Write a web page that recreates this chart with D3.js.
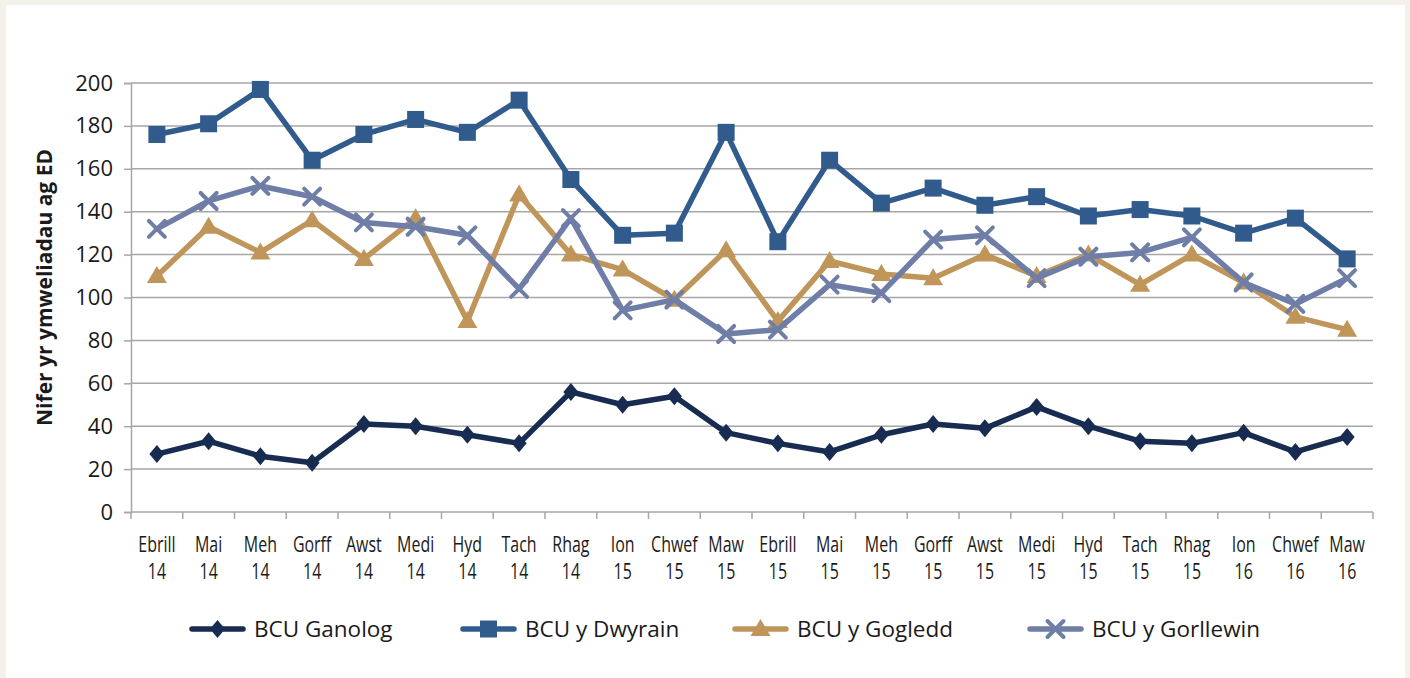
<!DOCTYPE html>
<html>
<head>
<meta charset="utf-8">
<script src="https://cdn.jsdelivr.net/npm/d3@7"></script>
<style>
  html, body { margin: 0; padding: 0; background: #f4f0ea; }
  svg { display: block; }
  text { font-family: "Open Sans", "Noto Sans", sans-serif; fill: #1a1a1a; }
</style>
</head>
<body>
<div id="chart"></div>
<script>
// data
const months = ["Ebrill", "Mai", "Meh", "Gorff", "Awst", "Medi", "Hyd", "Tach", "Rhag", "Ion", "Chwef", "Maw",
                "Ebrill", "Mai", "Meh", "Gorff", "Awst", "Medi", "Hyd", "Tach", "Rhag", "Ion", "Chwef", "Maw"];
const years = ["14", "14", "14", "14", "14", "14", "14", "14", "14", "15", "15", "15",
               "15", "15", "15", "15", "15", "15", "15", "15", "15", "16", "16", "16"];

const ganolog   = [27, 33, 26, 23, 41, 40, 36, 32, 56, 50, 54, 37, 32, 28, 36, 41, 39, 49, 40, 33, 32, 37, 28, 35];
const dwyrain   = [176, 181, 197, 164, 176, 183, 177, 192, 155, 129, 130, 177, 126, 164, 144, 151, 143, 147, 138, 141, 138, 130, 137, 118];
const gogledd   = [110, 133, 121, 136, 118, 137, 89, 148, 120, 113, 99, 122, 89, 117, 111, 109, 120, 110, 120, 106, 120, 107, 91, 85];
const gorllewin = [132, 145, 152, 147, 135, 133, 129, 104, 137, 94, 99, 83, 85, 106, 102, 127, 129, 109, 119, 121, 128, 107, 97, 109];

const yTicks = [0, 20, 40, 60, 80, 100, 120, 140, 160, 180, 200];
const yTitle = "Nifer yr ymweliadau ag ED";

const series = [
  {name: "BCU Ganolog",     values: ganolog,   color: "#172c50", marker: "diamond"},
  {name: "BCU y Dwyrain",   values: dwyrain,   color: "#315b8c", marker: "square"},
  {name: "BCU y Gogledd",   values: gogledd,   color: "#bf955a", marker: "triangle"},
  {name: "BCU y Gorllewin", values: gorllewin, color: "#6f7ea7", marker: "cross"}
];

// layout
const width = 1410, height = 678;
const margin = {left: 131, right: 37, top: 83, bottom: 166};

const svg = d3.select("#chart").append("svg")
  .attr("width", width)
  .attr("height", height);

// white panel
svg.append("rect")
  .attr("x", 6).attr("y", 5)
  .attr("width", 1399).attr("height", height - 5)
  .attr("fill", "#fff");

const x = d3.scaleBand()
  .domain(d3.range(months.length))
  .range([margin.left, width - margin.right]);

const y = d3.scaleLinear()
  .domain([0, 200])
  .range([height - margin.bottom, margin.top]);

const x0 = margin.left, x1 = width - margin.right;

// gridlines
svg.append("g")
  .selectAll("line")
  .data(yTicks.slice(1))
  .join("line")
  .attr("x1", x0).attr("x2", x1)
  .attr("y1", d => y(d)).attr("y2", d => y(d))
  .attr("stroke", "#a6a6a6")
  .attr("stroke-width", 1.5);

// y axis
const yAxis = svg.append("g")
  .attr("transform", `translate(${x0},0)`)
  .call(d3.axisLeft(y).tickValues(yTicks).tickSize(7).tickPadding(11).tickFormat(d3.format("d")));
yAxis.select(".domain").attr("stroke", "#a6a6a6").attr("stroke-width", 1.5);
yAxis.selectAll(".tick line").attr("stroke", "#a6a6a6").attr("stroke-width", 1.5);
yAxis.selectAll(".tick text").attr("font-size", 22).attr("fill", "#1a1a1a")
  .style("font-family", "'Open Sans', sans-serif");

// x axis (ticks on category boundaries)
const xb = svg.append("g");
xb.append("line")
  .attr("x1", x0).attr("x2", x1)
  .attr("y1", y(0)).attr("y2", y(0))
  .attr("stroke", "#a6a6a6").attr("stroke-width", 1.5);
xb.selectAll("line.tk")
  .data(d3.range(months.length + 1))
  .join("line")
  .attr("class", "tk")
  .attr("x1", i => x0 + i * x.step()).attr("x2", i => x0 + i * x.step())
  .attr("y1", y(0)).attr("y2", y(0) + 7)
  .attr("stroke", "#a6a6a6").attr("stroke-width", 1.5);

const xl = xb.selectAll("g.lbl")
  .data(d3.range(months.length))
  .join("g")
  .attr("class", "lbl")
  .attr("transform", i => `translate(${x(i) + x.bandwidth() / 2},0) scale(0.76,1)`);
xl.append("text")
  .attr("y", 552)
  .attr("text-anchor", "middle")
  .attr("font-size", 21)
  .text(i => months[i]);
xl.append("text")
  .attr("y", 579)
  .attr("text-anchor", "middle")
  .attr("font-size", 21)
  .text(i => years[i]);

// y title
svg.append("text")
  .attr("transform", `translate(52,${(y(0) + y(200)) / 2 - 10}) rotate(-90)`)
  .attr("text-anchor", "middle")
  .attr("font-size", 21)
  .attr("font-weight", "bold")
  .text(yTitle);

// markers
function drawMarker(g, type, color, s) {
  if (type === "diamond") {
    g.append("path").attr("d", `M0,${-9 * s}L${7.5 * s},0L0,${9 * s}L${-7.5 * s},0Z`).attr("fill", color);
  } else if (type === "square") {
    g.append("rect").attr("x", -8.5 * s).attr("y", -8.5 * s)
      .attr("width", 17 * s).attr("height", 17 * s).attr("fill", color);
  } else if (type === "triangle") {
    g.append("path").attr("d", `M0,${-10 * s}L${10 * s},${7 * s}L${-10 * s},${7 * s}Z`).attr("fill", color);
  } else {
    g.append("path").attr("d", `M${-8 * s},${-8 * s}L${8 * s},${8 * s}M${8 * s},${-8 * s}L${-8 * s},${8 * s}`)
      .attr("stroke", color).attr("stroke-width", 4).attr("stroke-linecap", "round").attr("fill", "none");
  }
}

const line = d3.line()
  .x((d, i) => x(i) + x.bandwidth() / 2)
  .y(d => y(d));

series.forEach(s => {
  const g = svg.append("g");
  g.append("path")
    .datum(s.values)
    .attr("d", line)
    .attr("fill", "none")
    .attr("stroke", s.color)
    .attr("stroke-width", 5.5)
    .attr("stroke-linejoin", "round")
    .attr("stroke-linecap", "round");
  g.selectAll("g.m")
    .data(s.values)
    .join("g")
    .attr("class", "m")
    .attr("transform", (d, i) => `translate(${x(i) + x.bandwidth() / 2},${y(d)})`)
    .each(function() { drawMarker(d3.select(this), s.marker, s.color, 1); });
});

// legend
const legendX = [192, 463, 735, 1030];
const legend = svg.append("g")
  .selectAll("g")
  .data(series)
  .join("g")
  .attr("transform", (d, i) => `translate(${legendX[i]},629)`);
legend.append("line")
  .attr("x1", 0).attr("x2", 51)
  .attr("stroke", d => d.color)
  .attr("stroke-width", 5.5)
  .attr("stroke-linecap", "round");
legend.each(function(d) {
  const m = d3.select(this).append("g").attr("transform", "translate(25.5,0)");
  drawMarker(m, d.marker, d.color, 1);
});
legend.append("text")
  .attr("x", 62)
  .attr("y", 8)
  .attr("font-size", 22.5)
  .text(d => d.name);
</script>
</body>
</html>
